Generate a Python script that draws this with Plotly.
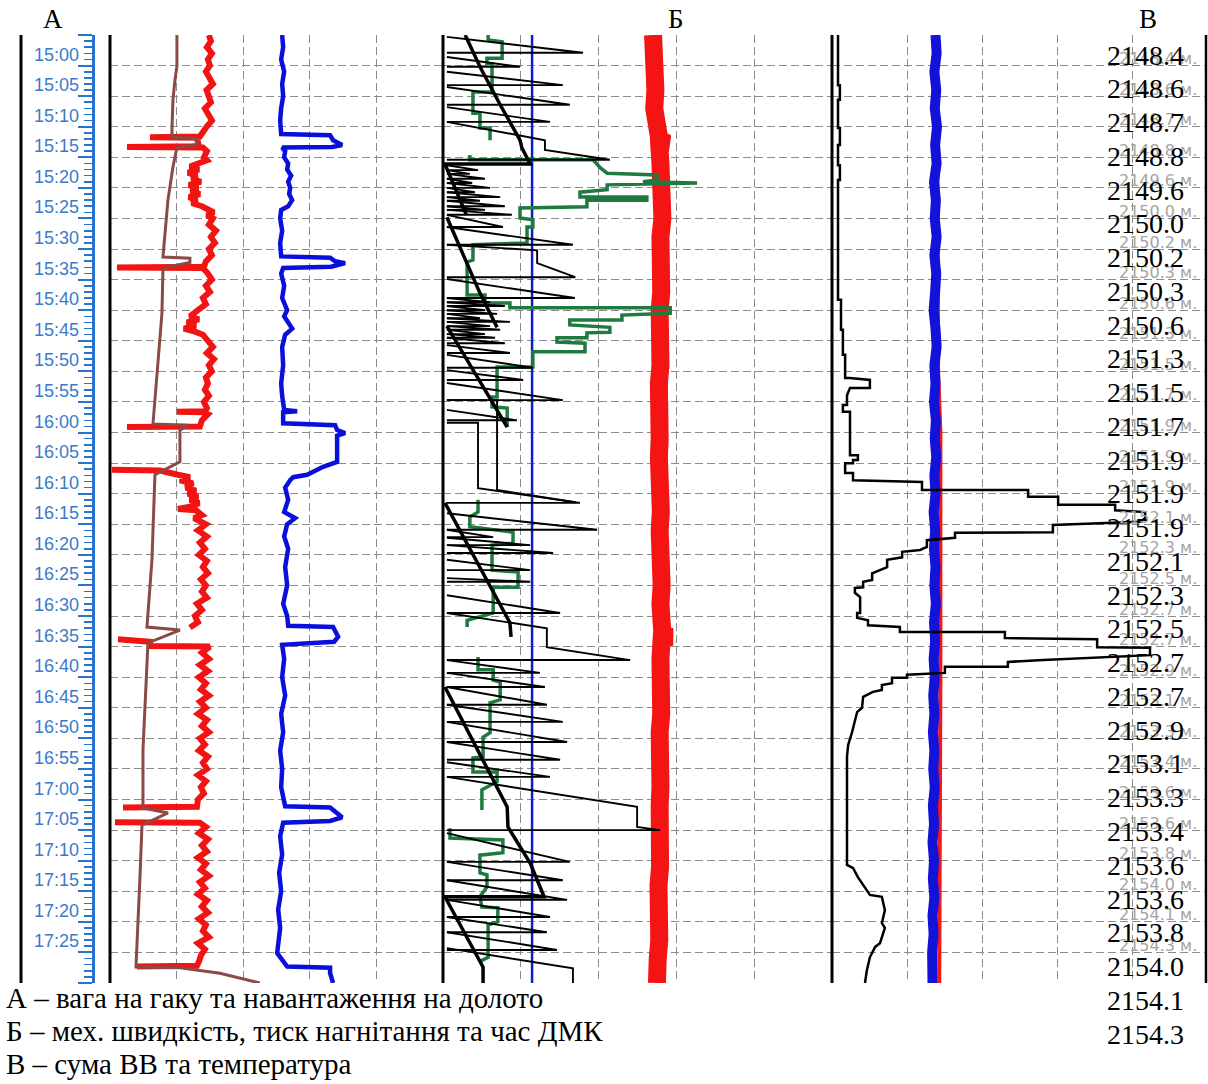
import plotly.graph_objects as go

GAP = (None, None)

# ---------------- time axis: minutes after 15:00 ----------------
tick_minutes = [0, 5, 10, 15, 20, 25, 30, 35, 40, 45, 50, 55, 60, 65, 70, 75, 80, 85, 90, 95,
                100, 105, 110, 115, 120, 125, 130, 135, 140, 145]
tick_labels = ["15:00", "15:05", "15:10", "15:15", "15:20", "15:25", "15:30", "15:35", "15:40", "15:45",
               "15:50", "15:55", "16:00", "16:05", "16:10", "16:15", "16:20", "16:25", "16:30", "16:35",
               "16:40", "16:45", "16:50", "16:55", "17:00", "17:05", "17:10", "17:15", "17:20", "17:25"]
depths = ["2148.4", "2148.6", "2148.7", "2148.8", "2149.6", "2150.0", "2150.2", "2150.3", "2150.6", "2151.3",
          "2151.5", "2151.7", "2151.9", "2151.9", "2151.9", "2152.1", "2152.3", "2152.5", "2152.7", "2152.7",
          "2152.9", "2153.1", "2153.3", "2153.4", "2153.6", "2153.6", "2153.8", "2154.0", "2154.1", "2154.3"]

# ---------------- panel A (minute, value %) ----------------
hook_brown = [(-5.0, 20.1), (0.1, 20.1), (2.4, 19.5), (5.6, 18.9), (10.5, 18.6), (11.7, 18.6), (11.9, 26.1),
              (12.9, 26.1), (13.4, 20.1), (16.6, 18.9), (22.0, 17.4), (27.4, 16.5), (30.6, 15.9), (31.3, 15.9),
              (31.5, 24.0), (32.2, 24.0), (32.9, 17.4), (33.4, 15.9), (40.5, 15.6), (51.4, 14.1), (58.6, 12.9),
              (58.8, 23.4), (59.6, 21.0), (64.8, 21.0), (66.9, 13.5), (80.8, 12.6), (90.6, 11.1), (91.8, 11.1),
              (92.3, 21.0), (94.4, 11.4), (111.9, 9.9), (121.4, 9.9), (122.2, 17.4), (124.2, 9.6), (132.7, 9.0),
              (139.2, 8.4), (147.4, 7.8), (147.5, 21.0), (148.4, 33.0), (150.0, 45.0)]

bit_red = [(-5, 29.7), (-4, 30.3), (-3, 29.1), (-2, 30.6), (-1, 29.4), (0, 30.0), (1, 28.8), (2, 29.7), (3, 30.9),
           (4, 29.0), (5, 29.6), (6, 30.3), (7, 28.5), (8, 29.4), (9, 30.6), (10, 29.0), (11, 27.6), (11.6, 27.0),
           (11.7, 12.0), (11.8, 26.1), (12.5, 26.4), (13.2, 26.7), (13.3, 5.1), (13.4, 27.9), (14, 29.1),
           (15, 28.2), (15.5, 29.1), (16, 26.4), (16.5, 24.0), (17, 26.7), (17.5, 23.4), (18, 26.1), (18.5, 24.6),
           (19, 27.3), (19.5, 23.7), (20, 26.4), (20.5, 24.3), (21, 27.0), (21.5, 23.7), (22, 26.1), (22.5, 24.6),
           (23, 27.6), (23.5, 29.7), (24, 31.2), (24.5, 29.1), (25, 30.9), (26, 29.7), (27, 31.8), (28, 30.3),
           (29, 31.5), (30, 29.7), (31, 30.6), (32, 28.8), (32.9, 28.2), (33.0, 2.1), (33.1, 27.9), (34, 29.4),
           (35, 30.6), (36, 28.8), (37, 30.0), (38, 27.9), (39, 28.8), (40, 26.4), (40.5, 25.2), (41, 24.0),
           (41.5, 26.7), (42, 23.1), (42.5, 25.8), (43, 22.2), (43.5, 25.5), (44, 27.9), (45, 29.4), (46, 30.9),
           (47, 29.1), (48, 31.2), (49, 29.7), (50, 30.6), (51, 28.8), (52, 29.4), (53, 28.5), (54, 29.7),
           (55, 28.2), (56, 29.1), (56.5, 28.5), (56.6, 20.1), (56.7, 28.2), (57, 29.4), (58, 27.6), (59.0, 27.0),
           (59.1, 5.1), GAP,
           (66.1, 0.6), (66.2, 15.0), (66.9, 20.4), (67.3, 24.0), (67.8, 21.0), (68.3, 24.9), (69, 22.8),
           (69.5, 25.8), (70, 23.4), (70.5, 26.4), (71, 24.0), (71.5, 26.7), (72, 25.2), (72.5, 20.4),
           (72.7, 25.8), (73.5, 27.6), (74, 25.2), (75, 28.8), (76, 26.4), (77, 29.1), (78, 27.0), (79, 28.5),
           (80, 26.7), (81, 29.1), (82, 27.9), (83, 29.4), (84, 27.3), (85, 28.8), (86, 27.6), (87, 29.1),
           (88, 26.1), (89, 27.6), (90, 25.5), (91, 26.4), (91.9, 24.0), GAP,
           (93.8, 2.4), (94.2, 12.0), (94.9, 12.0), (95.0, 30.0), (96, 27.6), (97, 29.7), (98, 27.0), (99, 29.4),
           (100, 26.7), (101, 28.8), (102, 27.3), (103, 29.7), (104, 27.0), (105, 28.8), (106, 26.4), (107, 29.1),
           (108, 27.6), (109, 29.7), (110, 27.0), (111, 28.5), (112, 26.7), (113, 29.4), (114, 27.9), (115, 29.1),
           (116, 26.4), (117, 28.8), (118, 27.3), (119, 28.2), (120, 26.4), (121.2, 26.1), (121.3, 3.9), GAP,
           (123.7, 1.5), (123.8, 27.0), (124.5, 28.8), (125.5, 26.7), (126.5, 29.4), (127.5, 27.6), (128.5, 29.1),
           (129.5, 26.4), (130.5, 28.8), (131.5, 27.3), (132.5, 29.7), (133.5, 27.0), (134.5, 28.5), (135.5, 26.4),
           (136.5, 29.1), (137.5, 27.6), (138.5, 29.4), (139.5, 26.7), (140.5, 28.8), (141.5, 27.9), (142.5, 29.7),
           (143.5, 26.4), (144.5, 28.5), (145.5, 27.3), (146.5, 26.7), (147.2, 26.1), (147.3, 8.1)]

hook_blue = [(-5, 51.7), (-3, 52.0), (-1, 51.4), (1, 52.3), (3, 51.7), (5, 52.0), (7, 51.4), (9, 51.1), (11.2, 51.4),
             (11.4, 66.1), (12.2, 67.0), (13.0, 69.7), (13.3, 66.7), (13.4, 51.7),
             (14, 52.6), (15, 52.3), (16, 53.5), (17, 53.2), (18, 54.4), (19, 53.5), (20, 54.1), (21, 53.8),
             (22, 54.7), (23, 53.5), (23.6, 51.4), (25, 51.1), (27, 51.7), (29, 51.1), (31.2, 51.4),
             (31.4, 66.1), (32.0, 67.6), (32.3, 70.6), (32.9, 66.4), (33.1, 52.0),
             (34, 51.4), (36, 52.3), (38, 51.7), (40, 53.2), (41, 52.3), (43, 54.7), (44, 52.6), (46, 51.7),
             (49, 52.0), (52, 51.4), (54, 51.7), (56.3, 52.3), (56.5, 56.2), (56.7, 52.0), (58.5, 52.0),
             (58.8, 67.6), (59.6, 68.2), (60.1, 70.6), (60.5, 68.2), (64.8, 68.2), (65.6, 64.0), (66.9, 59.2),
             (67.3, 55.0), (67.8, 54.1),
             (69, 52.6), (71, 53.5), (73, 52.3), (74, 55.6), (75, 53.2), (77, 52.3), (79, 53.5), (82, 52.6),
             (85, 53.2), (88, 52.0), (90, 53.2), (91.6, 53.5),
             (91.8, 67.0), (93.4, 68.5), (94.2, 67.3), (94.7, 51.7),
             (97, 52.3), (100, 51.7), (103, 52.6), (106, 51.4), (109, 52.0), (112, 51.1), (115, 51.7), (118, 51.4),
             (121.1, 52.6), (121.3, 66.1), (122.9, 69.7), (123.5, 66.1), (123.8, 52.0),
             (126, 51.1), (129, 51.7), (132, 50.8), (135, 51.4), (138, 50.5), (141, 51.1), (145.1, 50.2),
             (147.3, 53.2), (147.5, 66.1), (148.4, 66.1), (150, 67.0)]

# ---------------- panel B ----------------
pressure_red = [(-5, 54.0), (-2, 54.4), (1, 54.1), (4, 54.6), (7, 54.3), (10, 55.0), (12, 55.6), (12.7, 57.5),
                (13, 55.6), (16, 55.9), (19, 56.3), (22, 56.0), (25, 56.4), (28, 55.9), (31, 56.2), (34, 55.8),
                (37, 56.1), (40, 55.7), (43, 56.0), (46, 55.6), (49, 55.9), (52, 55.5), (55, 55.8), (58, 55.4),
                (61, 55.7), (64, 55.5), (67, 55.9), (70, 55.6), (73, 56.0), (76, 55.7), (79, 56.1), (82, 55.8),
                (85, 56.2), (88, 55.9), (91, 56.1), (93, 56.4), (93.4, 58.6), (93.8, 56.2), (97, 55.9),
                (100, 56.2), (103, 55.8), (106, 56.1), (109, 55.7), (112, 56.0), (115, 55.6), (118, 55.9),
                (121, 55.7), (125, 56.0), (128, 55.6), (131, 55.8), (134, 55.4), (137, 55.7), (140, 55.3),
                (143, 55.6), (146, 55.2), (150, 55.0)]
pump_blue = [(-5, 22.9), (150, 22.9)]

dmk_green = [(-5.0, 11.6), (-4.2, 11.6), (-3.9, 15.2), (-1.2, 15.2), (-1.2, 11.3), (-0.3, 11.3), (-0.3, 12.6),
             (4.3, 12.6), (4.3, 7.7), (7.8, 7.7), (7.8, 9.5), (10.2, 9.5), (10.2, 12.1), (12.2, 12.1), GAP,
             (14.6, 6.9), (15.4, 6.9), (15.4, 38.6), (16.7, 40.4), (17.6, 42.2), (17.9, 55.0), (18.7, 55.0),
             (19.0, 51.4), (19.2, 65.3), (19.5, 42.2), (20.3, 42.2), (20.7, 35.2), (21.5, 35.2), (21.5, 52.4),
             (22.0, 52.4), (22.0, 37.0), (23.1, 37.0), (23.3, 19.8), (24.9, 19.8), (25.2, 23.1), (26.4, 23.1),
             (26.4, 21.6), (29.0, 21.6), (29.3, 7.7), (31.8, 7.7), (32.1, 6.2), (37.5, 6.2), (37.5, 10.8),
             (38.8, 10.8), (38.8, 17.2), (39.6, 17.2), (39.6, 58.4), (40.5, 58.4), (40.8, 46.0), (41.6, 46.0),
             (41.6, 32.6), (42.4, 32.6), (42.8, 42.9), (43.6, 42.9), (43.7, 37.0), (44.5, 37.0), (44.5, 29.3),
             (45.2, 29.3), (45.4, 36.5), (46.8, 36.5), (46.8, 23.1), (49.3, 23.1), (49.3, 13.9), (54.2, 13.9),
             (54.2, 12.6), (55.8, 12.6), (56.0, 16.5), (59.1, 16.5), GAP,
             (71.0, 9.0), (73.0, 9.0), (73.8, 6.9), (75.4, 6.9), (76.3, 18.0), (78.1, 18.0), (78.4, 12.6),
             (82.5, 12.6), (82.8, 19.3), (85.3, 19.3), (85.3, 12.9), (89.5, 12.9), (90.7, 6.2), (91.8, 6.2), GAP,
             (96.7, 9.0), (98.8, 9.0), (98.8, 12.9), (100.5, 12.9), (100.8, 14.7), (103.7, 14.7), (104.2, 12.1),
             (109.1, 12.1), (109.8, 10.3), (113.0, 10.3), (113.2, 7.7), (115.5, 7.7), (115.5, 13.9), (117.1, 13.9),
             (118.4, 10.0), (121.7, 10.0), GAP,
             (124.7, 1.8), (126.3, 1.8), (126.6, 15.4), (128.7, 15.4), (129.1, 9.5), (132.0, 9.5), (132.3, 11.3),
             (134.3, 11.3), (135.9, 9.5), (137.6, 10.0), (137.7, 14.1), (140.0, 14.1), (140.5, 11.6),
             (145.8, 11.6), (146.3, 10.0), (146.7, 9.5)]

dmk_black = [(-5.0, 5.7), (0.2, 9.5), (6.4, 14.7), (12.2, 19.8), (13.5, 20.3), (15.9, 22.4), (16.1, 22.4),
             (16.1, 0.5), (24.4, 6.0), GAP, (24.8, 1.0), (37.2, 9.5), (42.8, 13.9), GAP, (42.6, 1.0), (59.1, 16.5),
             GAP, (71.5, 0.5), (91.1, 17.2), (93.4, 17.5), GAP, (101.6, 0.5), (121.2, 16.5), (124.5, 16.7),
             (130.4, 22.4), (135.9, 26.0), (135.9, 0.5), (147.4, 10.3), (150.0, 10.3)]

# rate of penetration teeth: start minute, end minute, peak value
rop_base = 1.0
rop_start = [-4.7, -1.4, 1.0, 3.5, 6.8, 16.3, 17.1, 17.7, 18.5, 19.2, 20.0, 20.7, 21.5, 22.1, 23.0, 23.6, 24.4,
             26.4, 34.9, 38.0, 38.7, 39.3, 40.0, 40.6, 41.3, 41.9, 42.6, 43.2, 43.9, 44.5, 45.7, 47.3, 49.8,
             51.9, 56.3, 73.2, 75.9, 77.2, 78.4, 80.8, 83.8, 86.6, 97.2, 99.3, 101.6, 104.5, 107.3, 110.6,
             113.9, 125.5, 130.2, 133.2, 136.4, 139.2, 141.7]
rop_end = [-2.1, 0.2, 3.2, 6.4, 9.2, 17.1, 17.7, 18.5, 19.2, 20.0, 20.7, 21.5, 22.1, 23.0, 23.6, 24.4, 26.4,
           29.3, 38.0, 38.7, 39.3, 40.0, 40.6, 41.3, 41.9, 42.6, 43.2, 43.9, 44.5, 45.4, 47.0, 49.4, 51.4,
           54.7, 58.0, 75.9, 77.1, 78.4, 79.7, 82.5, 84.4, 89.5, 99.3, 101.6, 104.5, 107.3, 110.6, 113.5,
           116.3, 130.2, 133.2, 136.4, 139.2, 141.7, 144.6]
rop_peak = [36.0, 19.8, 30.8, 32.6, 27.5, 9.0, 6.9, 10.8, 7.5, 12.1, 8.2, 14.7, 9.5, 15.9, 10.8, 17.7, 15.4,
            33.4, 33.9, 12.1, 15.9, 10.8, 13.9, 9.5, 17.2, 12.1, 14.7, 10.8, 13.4, 15.9, 17.2, 23.1, 20.6,
            30.8, 19.0, 39.6, 12.9, 22.4, 28.3, 22.4, 22.4, 30.1, 24.9, 26.2, 26.7, 30.8, 31.9, 30.1,
            27.5, 32.6, 30.8, 31.9, 27.5, 26.7, 29.3]
# teeth with a held (vertical) part
rop_held = [(9.2, 1.0), (12.2, 26.2), (13.8, 26.2), (15.4, 42.9), (15.4, 1.0), GAP,
            (29.3, 1.0), (30.2, 24.2), (32.3, 24.2), (34.6, 34.0), (34.6, 1.0), GAP,
            (58.4, 1.0), (58.4, 9.0), (69.1, 9.0), (71.5, 35.2), (71.5, 1.0), GAP,
            (54.7, 1.0), (54.7, 13.9), (69.4, 13.9), (71.4, 34.0), GAP,
            (89.5, 1.0), (92.0, 26.7), (95.1, 26.7), (97.2, 48.1), (97.2, 1.0), GAP,
            (116.3, 1.0), (121.2, 49.9), (124.5, 49.9), (125.0, 55.8), (125.0, 1.0), GAP,
            (144.3, 1.0), (147.6, 33.4), (150.0, 33.4)]

# ---------------- panel V ----------------
gas_sum = [(-5.0, 1.6), (3.2, 1.6), (3.2, 2.1), (5.6, 2.1), (5.6, 1.6), (10.2, 1.6), (10.2, 2.1), (13.0, 2.1),
           (13.0, 1.6), (16.3, 1.6), (16.3, 2.1), (18.7, 2.1), (18.7, 1.6), (38.3, 1.6), (38.3, 2.4), (43.2, 2.4),
           (43.2, 2.9), (47.3, 2.9), (47.3, 3.5), (51.1, 3.5), (51.1, 4.8), (51.4, 10.1), (52.7, 10.1),
           (52.7, 4.8), (53.9, 4.0), (55.5, 4.0), (55.5, 2.9), (56.6, 2.9), (56.6, 4.8), (63.7, 4.8), (63.7, 6.9),
           (64.5, 6.9), (64.5, 5.6), (65.0, 5.6), (65.0, 3.5), (66.6, 3.5), (66.6, 5.6), (67.8, 5.6),
           (68.1, 24.0), (69.4, 24.0), (69.4, 52.3), (70.5, 52.3), (70.5, 60.3), (71.8, 60.3), (71.8, 75.5),
           (72.7, 75.5), (73.0, 83.5), (74.0, 83.5), (74.6, 82.1), (75.1, 58.9), (76.3, 58.9), (76.4, 32.8),
           (77.2, 32.8), (77.6, 25.3), (78.7, 25.3), (79.2, 23.5), (79.5, 18.7), (80.4, 18.7), (80.8, 14.7),
           (82.0, 14.7), (83.0, 10.7), (84.1, 10.7), (84.4, 8.3), (85.3, 8.3), (85.4, 6.1), (86.2, 6.1),
           (86.9, 7.5), (89.5, 7.5), (89.5, 6.7), (90.3, 6.7), (90.7, 9.6), (91.5, 9.6), (91.8, 18.1),
           (92.6, 18.1), (92.6, 46.1), (93.6, 46.1), (93.8, 70.7), (95.1, 70.7), (95.2, 84.8), (96.4, 84.8),
           (97.2, 56.3), (97.5, 46.9), (98.3, 46.9), (98.3, 30.1), (99.3, 30.1), (99.6, 20.0), (100.1, 20.0),
           (100.1, 16.0), (101.0, 16.0), (101.3, 13.3), (102.1, 13.3), (102.4, 10.9), (103.2, 8.3), (105.0, 8.0),
           (105.7, 6.7), (107.3, 6.1), (109.1, 5.3), (111.1, 4.3), (113.0, 4.0), (130.7, 4.0), (131.2, 5.6),
           (132.7, 6.9), (134.0, 8.3), (135.6, 10.1), (135.9, 13.3), (138.1, 14.1), (140.2, 13.3), (141.0, 14.1),
           (143.5, 12.8), (144.1, 11.5), (145.8, 10.1), (147.9, 9.3), (150.0, 8.8)]
temp_red = [(-5, 28.0), (50, 28.3), (60, 28.9), (100, 28.9), (150, 28.6)]
temp_blue = [(-5, 27.6), (-2, 27.9), (1, 27.3), (4, 27.8), (7, 27.4), (10, 28.0), (13, 27.5), (16, 27.9),
             (19, 27.2), (22, 27.7), (25, 27.4), (28, 27.9), (31, 27.3), (34, 27.8), (37, 27.5), (40, 27.1),
             (43, 27.6), (46, 27.9), (49, 27.3), (52, 27.6), (55, 27.2), (58, 27.7), (61, 27.4), (64, 27.8),
             (67, 27.3), (70, 27.6), (73, 27.1), (76, 27.5), (79, 27.2), (82, 27.6), (85, 27.3), (88, 27.7),
             (91, 27.2), (94, 27.5), (97, 27.1), (100, 27.4), (103, 27.0), (106, 27.3), (109, 26.9), (112, 27.3),
             (115, 27.0), (118, 27.4), (121, 26.9), (124, 27.2), (127, 26.8), (130, 27.2), (133, 26.9),
             (136, 27.3), (139, 26.8), (142, 27.1), (145, 26.7), (148, 27.0), (150, 26.8)]

panel_titles = ["А", "Б", "В"]
captions = ["А – вага на гаку та навантаження на долото",
            "Б – мех. швидкість, тиск нагнітання та час ДМК",
            "В – сума ВВ та температура"]

# ---------------- figure ----------------
W, H = 1208, 1084
PX = lambda v: v / W
PY = lambda v: 1 - v / H
Y0, Y1 = PY(983), PY(35)

fig = go.Figure()


def add(pairs, xa, ya, color, width):
    t = [p[0] for p in pairs]
    u = [p[1] for p in pairs]
    fig.add_trace(go.Scatter(x=u, y=t, xaxis=xa, yaxis=ya, mode="lines",
                             line=dict(color=color, width=width),
                             hoverinfo="skip", showlegend=False))


# panel A
add(bit_red, "x", "y", "#f21313", 6)
add(hook_brown, "x", "y", "#8a4a46", 3)
add(hook_blue, "x", "y", "#0a10dc", 4.5)

# panel B
add(pressure_red, "x2", "y2", "#f41414", 18)
add(pump_blue, "x2", "y2", "#0d1ccc", 2.5)
add(dmk_green, "x2", "y2", "#1f7a40", 3.5)
teeth = []
for t0, t1, pk in zip(rop_start, rop_end, rop_peak):
    teeth += [(t0, rop_base), (t1, pk), (t1, rop_base), GAP]
add(teeth, "x2", "y2", "black", 1.9)
add(rop_held, "x2", "y2", "black", 1.9)
add(dmk_black, "x2", "y2", "black", 3.5)

# panel V
add(temp_red, "x3", "y3", "#f01818", 4)
add(temp_blue, "x3", "y3", "#1212d8", 10)
add(gas_sum, "x3", "y3", "black", 2.5)

# dummy trace for ruler axis
fig.add_trace(go.Scatter(x=[50], y=[-100], xaxis="x", yaxis="y4", mode="markers",
                         marker=dict(opacity=0), hoverinfo="skip", showlegend=False))

grid = dict(showgrid=True, gridcolor="#8c8c8c", gridwidth=1, griddash="8px,4px", zeroline=False,
            showticklabels=False, ticks="", showline=False, fixedrange=True)
xcommon = dict(range=[0, 100], tick0=0, dtick=20, **grid)
ycommon = dict(range=[150, -5], tick0=0, dtick=5, domain=[Y0, Y1], **grid)
RULER = "#2a72d0"

layout = dict(
    width=W, height=H, margin=dict(l=0, r=0, t=0, b=0),
    paper_bgcolor="white", plot_bgcolor="white", hovermode=False, showlegend=False,
    xaxis=dict(domain=[PX(110), PX(443)], anchor="y", **xcommon),
    yaxis=dict(anchor="x", **ycommon),
    xaxis2=dict(domain=[PX(443), PX(832)], anchor="y2", **xcommon),
    yaxis2=dict(anchor="x2", **ycommon),
    xaxis3=dict(domain=[PX(832), PX(1207)], anchor="y3", **xcommon),
    yaxis3=dict(anchor="x3", **ycommon),
    yaxis4=dict(overlaying="y", anchor="free", position=PX(93), side="left", range=[150, -5],
                tick0=0, dtick=5, ticks="outside", ticklen=14, tickwidth=2, tickcolor=RULER,
                minor=dict(dtick=1, ticks="outside", ticklen=8, tickwidth=1.6, tickcolor=RULER, showgrid=False),
                showticklabels=False, showgrid=False, zeroline=False, showline=True,
                linecolor=RULER, linewidth=3, fixedrange=True),
)
fig.update_layout(**layout)

# frame lines
for xp, wd in [(21, 3), (110, 3), (443, 3), (832, 3), (1206, 2.5)]:
    fig.add_shape(type="line", xref="paper", yref="paper", x0=PX(xp), x1=PX(xp), y0=Y0, y1=Y1,
                  line=dict(color="black", width=wd), layer="above")

ann = []
for m, lab in zip(tick_minutes, tick_labels):
    ann.append(dict(x=PX(81), xref="paper", xanchor="right", y=m, yref="y", yanchor="middle", yshift=11,
                    text=lab, showarrow=False,
                    font=dict(family="Liberation Sans, Arial", size=18, color="#3a7acb")))
for m, d in zip(tick_minutes, depths):
    ann.append(dict(x=PX(1199), xref="paper", xanchor="right", y=m, yref="y", yanchor="middle", yshift=7,
                    text=d + " м.", showarrow=False,
                    font=dict(family="DejaVu Sans", size=16, color="#a4a4a4")))
for i, d in enumerate(depths):
    ann.append(dict(x=PX(1145), xref="paper", xanchor="center", y=PY(55 + i * 33.76), yref="paper",
                    yanchor="middle", text=d, showarrow=False,
                    font=dict(family="Liberation Serif, Times New Roman", size=28, color="black")))
for xp, txt in zip([53, 676, 1148], panel_titles):
    ann.append(dict(x=PX(xp), xref="paper", xanchor="center", y=PY(19), yref="paper", yanchor="middle",
                    text=txt, showarrow=False,
                    font=dict(family="Liberation Serif, Times New Roman", size=27, color="black")))
for i, txt in enumerate(captions):
    ann.append(dict(x=PX(4), xref="paper", xanchor="left", y=PY(998 + i * 33), yref="paper", yanchor="middle",
                    text=txt, showarrow=False,
                    font=dict(family="Liberation Serif, Times New Roman", size=29, color="black")))
fig.update_layout(annotations=ann)

fig.write_html("out.html", include_plotlyjs=True, full_html=True,
               config={"displayModeBar": False, "staticPlot": True},
               post_script="document.body.style.margin='0';document.body.style.overflow='hidden';")
